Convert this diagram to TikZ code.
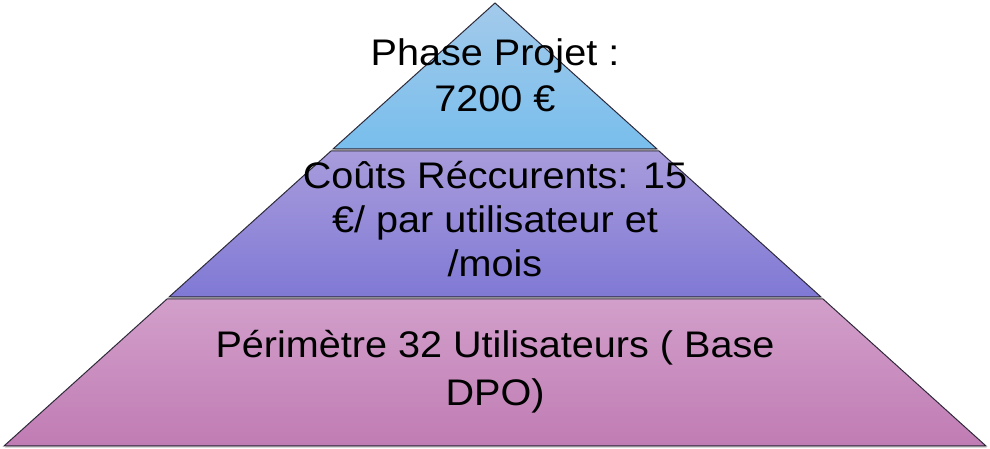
\documentclass[tikz,border=0pt]{standalone}
\usepackage{fontspec}
\setmainfont{Liberation Sans}[FakeStretch=1.07]
\usetikzlibrary{shadows}

\definecolor{topA}{HTML}{A3CAEB}
\definecolor{topB}{HTML}{78BEEC}
\definecolor{midA}{HTML}{A89CDC}
\definecolor{midB}{HTML}{8079D5}
\definecolor{botA}{HTML}{D29FCA}
\definecolor{botB}{HTML}{C07CB4}
\definecolor{edge}{HTML}{2E2A3A}

\tikzset{
  layer/.style={draw=edge, line width=1pt, line join=miter,
    drop shadow={shadow xshift=0.8pt, shadow yshift=-1.6pt, opacity=0.45}},
  label/.style={align=center, font=\fontsize{37}{44}\selectfont, text=black}
}

\begin{document}
\begin{tikzpicture}[x=1pt, y=1pt]
  \useasboundingbox (0, 0) rectangle (990, 449);
  \path[layer, top color=botA, bottom color=botB] (167, 150) -- (823, 150) -- (986, 3) -- (4, 3) -- cycle;
  \path[layer, top color=midA, bottom color=midB] (331, 298) -- (659, 298) -- (821, 152) -- (169, 152) -- cycle;
  \path[layer, top color=topA, bottom color=topB] (495, 446) -- (657, 300) -- (333, 300) -- cycle;
  \node[label, font=\fontsize{37}{46}\selectfont] (projet) at (495, 374) {Phase Projet :\\7200 €};
  \node[label] (recurrent) at (495, 230) {Coûts Réccurents: 15\\€/ par utilisateur et\\/mois};
  \node[label, font=\fontsize{37}{48}\selectfont] (perimetre) at (495, 77) {Périmètre 32 Utilisateurs ( Base\\DPO)};
\end{tikzpicture}
\end{document}
